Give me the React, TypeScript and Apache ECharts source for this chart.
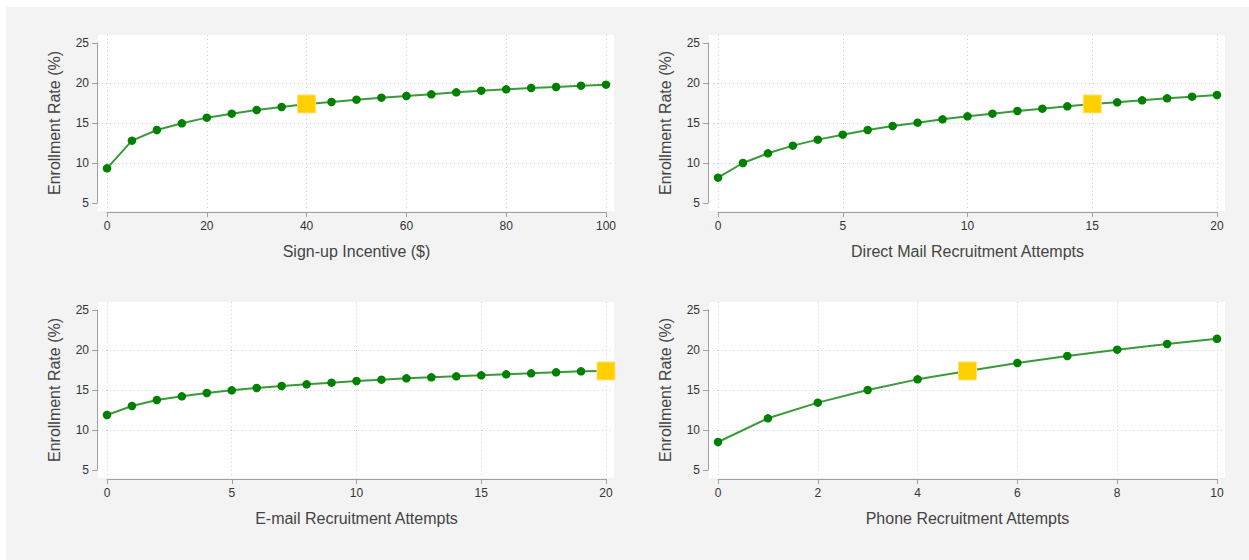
import React, { useEffect, useRef } from "react";
import * as echarts from "echarts";

// ---------- data ----------
const yTicks = [5, 10, 15, 20, 25];
const yGridLines = [10, 15, 20];
const yAxisName = "Enrollment Rate (%)";

const incentiveX = [0, 5, 10, 15, 20, 25, 30, 35, 40, 45, 50, 55, 60, 65, 70, 75, 80, 85, 90, 95, 100];
const incentiveY = [9.33, 12.79, 14.13, 14.96, 15.67, 16.17, 16.63, 17.0, 17.38, 17.63, 17.92, 18.17, 18.38, 18.58, 18.83, 19.04, 19.21, 19.38, 19.5, 19.67, 19.79];
const incentiveTicks = [0, 20, 40, 60, 80, 100];
const incentiveCurrent = [40, 17.38];

const mailX = [0, 1, 2, 3, 4, 5, 6, 7, 8, 9, 10, 11, 12, 13, 14, 15, 16, 17, 18, 19, 20];
const mailY = [8.17, 10.0, 11.21, 12.17, 12.92, 13.54, 14.13, 14.63, 15.04, 15.46, 15.83, 16.17, 16.5, 16.79, 17.08, 17.38, 17.58, 17.83, 18.08, 18.29, 18.5];
const mailTicks = [0, 5, 10, 15, 20];
const mailCurrent = [15, 17.38];

const emailX = [0, 1, 2, 3, 4, 5, 6, 7, 8, 9, 10, 11, 12, 13, 14, 15, 16, 17, 18, 19, 20];
const emailY = [11.88, 13.0, 13.75, 14.21, 14.63, 14.96, 15.25, 15.5, 15.71, 15.92, 16.13, 16.29, 16.46, 16.58, 16.71, 16.83, 16.96, 17.08, 17.21, 17.33, 17.38];
const emailTicks = [0, 5, 10, 15, 20];
const emailCurrent = [20, 17.38];

const phoneX = [0, 1, 2, 3, 4, 5, 6, 7, 8, 9, 10];
const phoneY = [8.5, 11.46, 13.42, 15.0, 16.33, 17.38, 18.38, 19.25, 20.04, 20.75, 21.4];
const phoneTicks = [0, 2, 4, 6, 8, 10];
const phoneCurrent = [5, 17.38];

const panels = [
  { name: "Sign-up Incentive ($)", x: incentiveX, y: incentiveY, ticks: incentiveTicks, cur: incentiveCurrent },
  { name: "Direct Mail Recruitment Attempts", x: mailX, y: mailY, ticks: mailTicks, cur: mailCurrent },
  { name: "E-mail Recruitment Attempts", x: emailX, y: emailY, ticks: emailTicks, cur: emailCurrent },
  { name: "Phone Recruitment Attempts", x: phoneX, y: phoneY, ticks: phoneTicks, cur: phoneCurrent },
];

// ---------- layout ----------
const layout = [
  { left: 101, top: 36 },
  { left: 712, top: 36 },
  { left: 101, top: 303 },
  { left: 712, top: 303 },
];
const W = 499;
const H = 160;
const FONT = "'Liberation Sans', Arial, sans-serif";

function buildOption() {
  const grid: any[] = [];
  const xAxis: any[] = [];
  const yAxis: any[] = [];
  const series: any[] = [];
  const splitStyle = { color: "#cfcfcf", width: 1, type: [1, 3] };

  panels.forEach((p, i) => {
    const L = layout[i];
    const xMin = p.ticks[0];
    const xMax = p.ticks[p.ticks.length - 1];
    const ux = (xMax - xMin) / W;
    const yMin = yTicks[0];
    const yMax = yTicks[yTicks.length - 1];
    const uy = (yMax - yMin) / H;
    const a = i * 2;
    const b = i * 2 + 1;

    grid.push({
      left: L.left - 9, top: L.top - 8, width: W + 17, height: H + 16,
      show: true, backgroundColor: "#ffffff", borderWidth: 0, containLabel: false, outerBoundsMode: "none",
    });
    grid.push({
      left: L.left, top: L.top, width: W, height: H, show: false, containLabel: false, outerBoundsMode: "none",
    });

    // background axes: only dotted split lines
    xAxis.push({
      type: "value", gridIndex: a, min: xMin - 9 * ux, max: xMax + 8 * ux,
      axisLine: { show: false }, axisTick: { show: false, customValues: p.ticks },
      axisLabel: { show: false, customValues: p.ticks },
      splitLine: { show: true, lineStyle: splitStyle },
    });
    yAxis.push({
      type: "value", gridIndex: a, min: yMin - 8 * uy, max: yMax + 8 * uy,
      axisLine: { show: false }, axisTick: { show: false, customValues: yGridLines },
      axisLabel: { show: false, customValues: yGridLines },
      splitLine: { show: true, lineStyle: splitStyle },
    });

    // visible axes
    xAxis.push({
      type: "value", gridIndex: b, min: xMin, max: xMax, interval: p.ticks[1] - p.ticks[0],
      position: "bottom", offset: 9,
      axisLine: { show: true, onZero: false, lineStyle: { color: "#a0a0a0", width: 1 } },
      axisTick: { show: true, length: 5, lineStyle: { color: "#a0a0a0" } },
      axisLabel: { show: true, margin: 8, color: "#333", fontSize: 12, fontFamily: FONT },
      splitLine: { show: false },
      name: p.name, nameLocation: "middle", nameGap: 31,
      nameTextStyle: { color: "#444", fontSize: 16, fontFamily: FONT },
    });
    yAxis.push({
      type: "value", gridIndex: b, min: yMin, max: yMax, interval: 5,
      position: "left", offset: 10,
      axisLine: { show: true, onZero: false, lineStyle: { color: "#a0a0a0", width: 1 } },
      axisTick: { show: true, length: 5, lineStyle: { color: "#a0a0a0" } },
      axisLabel: { show: true, margin: 8, color: "#333", fontSize: 12, fontFamily: FONT },
      splitLine: { show: false },
      name: yAxisName, nameLocation: "middle", nameGap: 35, nameRotate: 90,
      nameTextStyle: { color: "#444", fontSize: 16, fontFamily: FONT },
    });

    series.push({
      type: "line", xAxisIndex: b, yAxisIndex: b,
      data: p.x.map((v, k) => [v, p.y[k]]),
      symbol: "circle", symbolSize: 8.5, showAllSymbol: true, clip: false, silent: true,
      itemStyle: { color: "#008000", opacity: 1 },
      lineStyle: { color: "#3a9a3a", width: 2 },
      z: 2,
    });
    series.push({
      type: "scatter", xAxisIndex: b, yAxisIndex: b,
      data: [p.cur],
      symbol: "rect", symbolSize: 18, clip: false, silent: true,
      itemStyle: { color: "#FFD000", borderColor: "#FFE27A", borderWidth: 1, opacity: 1 },
      z: 5,
    });
  });

  return {
    animation: false,
    backgroundColor: "transparent",
    textStyle: { fontFamily: FONT },
    grid, xAxis, yAxis, series,
  };
}

export default function App() {
  const ref = useRef<HTMLDivElement>(null);
  useEffect(() => {
    if (!ref.current) return;
    const chart = echarts.init(ref.current, undefined, { renderer: "svg" });
    chart.setOption(buildOption() as any);
    return () => chart.dispose();
  }, []);
  return (
    <div
      ref={ref}
      style={{
        position: "absolute",
        left: 6,
        top: 7,
        width: 1243,
        height: 553,
        background: "#f3f3f3",
      }}
    />
  );
}
